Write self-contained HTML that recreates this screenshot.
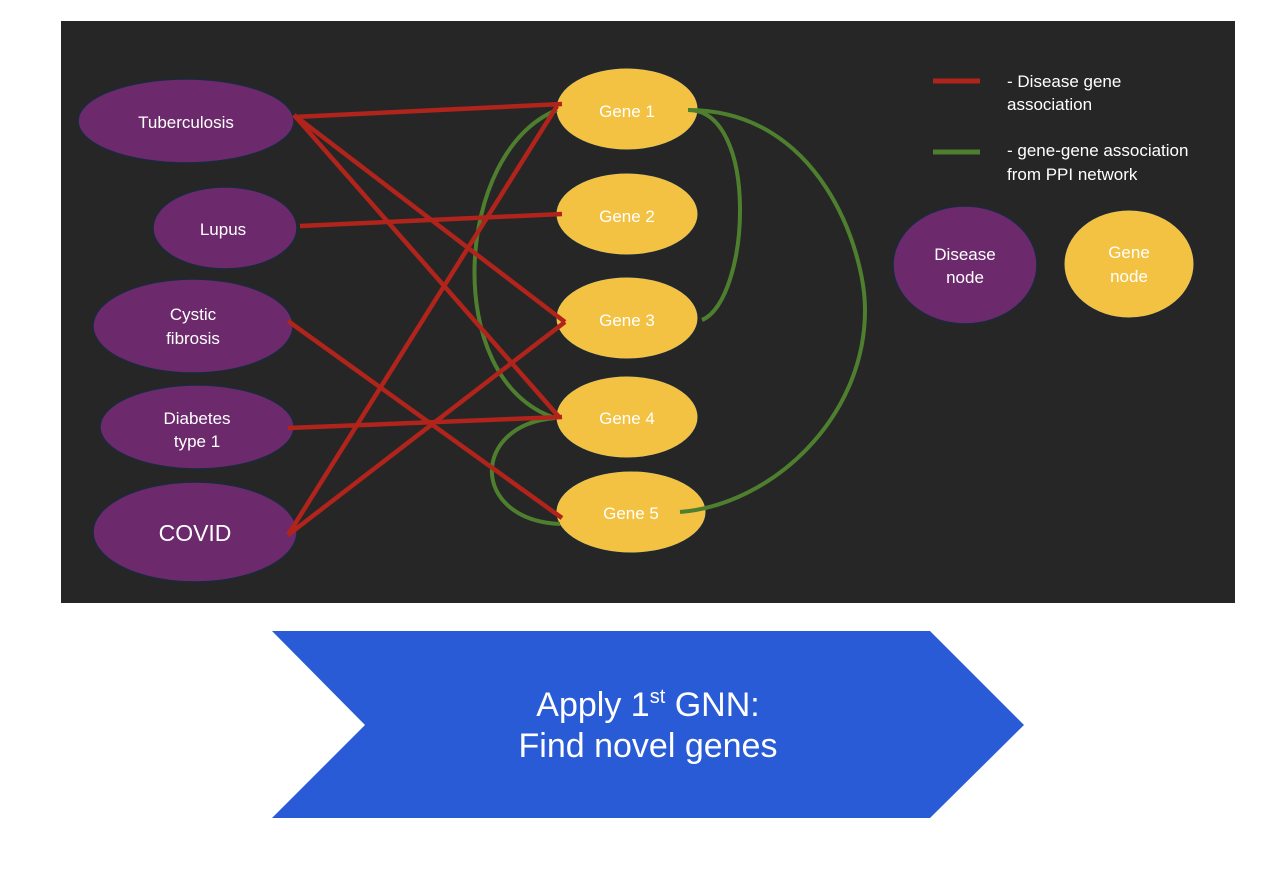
<!DOCTYPE html>
<html><head><meta charset="utf-8"><style>
html,body{margin:0;padding:0;background:#fff;width:1286px;height:878px;overflow:hidden}
svg{display:block}
text{font-family:"Liberation Sans",Arial,sans-serif;fill:#fff}
</style></head><body>
<svg width="1286" height="878" viewBox="0 0 1286 878" xmlns="http://www.w3.org/2000/svg">
<rect x="61" y="21" width="1174" height="582" fill="#262626"/>
<g fill="#6c2a6c" stroke="#1a2a3a" stroke-width="1.5">
<ellipse cx="186" cy="121" rx="108" ry="42"/>
<ellipse cx="225" cy="228" rx="72" ry="41"/>
<ellipse cx="193" cy="326" rx="100" ry="47"/>
<ellipse cx="197" cy="427" rx="97" ry="42"/>
<ellipse cx="195" cy="532" rx="102" ry="50"/>
<ellipse cx="965" cy="265" rx="72" ry="59"/>
</g>
<g fill="#f4c243" stroke="#1a2a3a" stroke-width="1">
<ellipse cx="627" cy="109" rx="71" ry="41"/>
<ellipse cx="627" cy="214" rx="71" ry="41"/>
<ellipse cx="627" cy="318" rx="71" ry="41"/>
<ellipse cx="627" cy="417" rx="71" ry="41"/>
<ellipse cx="631" cy="512" rx="75" ry="41"/>
<ellipse cx="1129" cy="264" rx="65" ry="54"/>
</g>
<g fill="none" stroke="#4e7f2e" stroke-width="4">
<path d="M557 110 C455 150 440 380 555 418"/>
<path d="M688 110 C760 110 750 300 702 320"/>
<path d="M688 110 C820 110 865 250 865 310 C865 420 770 505 680 512"/>
<path d="M555 418 C470 425 470 520 560 524"/>
<line x1="933" y1="152" x2="980" y2="152" stroke-width="5"/>
</g>
<g stroke="#b0241c" stroke-width="4.5">
<line x1="294" y1="117" x2="562" y2="104"/>
<line x1="294" y1="115" x2="565" y2="322"/>
<line x1="294" y1="115" x2="560" y2="418"/>
<line x1="300" y1="226" x2="562" y2="214"/>
<line x1="288" y1="321" x2="562" y2="518"/>
<line x1="288" y1="428" x2="562" y2="417"/>
<line x1="288" y1="535" x2="557" y2="106"/>
<line x1="288" y1="535" x2="565" y2="322"/>
<line x1="933" y1="81" x2="980" y2="81" stroke-width="5"/>
</g>
<g font-size="17" text-anchor="middle">
<text x="186" y="128">Tuberculosis</text>
<text x="223" y="235">Lupus</text>
<text x="193" y="320">Cystic</text>
<text x="193" y="344">fibrosis</text>
<text x="197" y="424">Diabetes</text>
<text x="197" y="447">type 1</text>
<text x="195" y="541" font-size="23">COVID</text>
<text x="627" y="117">Gene 1</text>
<text x="627" y="222">Gene 2</text>
<text x="627" y="326">Gene 3</text>
<text x="627" y="424">Gene 4</text>
<text x="631" y="519">Gene 5</text>
<text x="965" y="260">Disease</text>
<text x="965" y="283">node</text>
<text x="1129" y="258">Gene</text>
<text x="1129" y="282">node</text>
</g>
<g font-size="17">
<text x="1007" y="87">- Disease gene</text>
<text x="1007" y="110">association</text>
<text x="1007" y="156">- gene-gene association</text>
<text x="1007" y="180">from PPI network</text>
</g>
<polygon points="272,631 930,631 1024,725 930,818 272,818 365,725" fill="#2a5bd7"/>
<text x="648" y="716" font-size="34" text-anchor="middle">Apply 1<tspan font-size="20" dy="-13">st</tspan><tspan dy="13"> GNN:</tspan></text>
<text x="648" y="757" font-size="34" text-anchor="middle">Find novel genes</text>
</svg>
</body></html>
